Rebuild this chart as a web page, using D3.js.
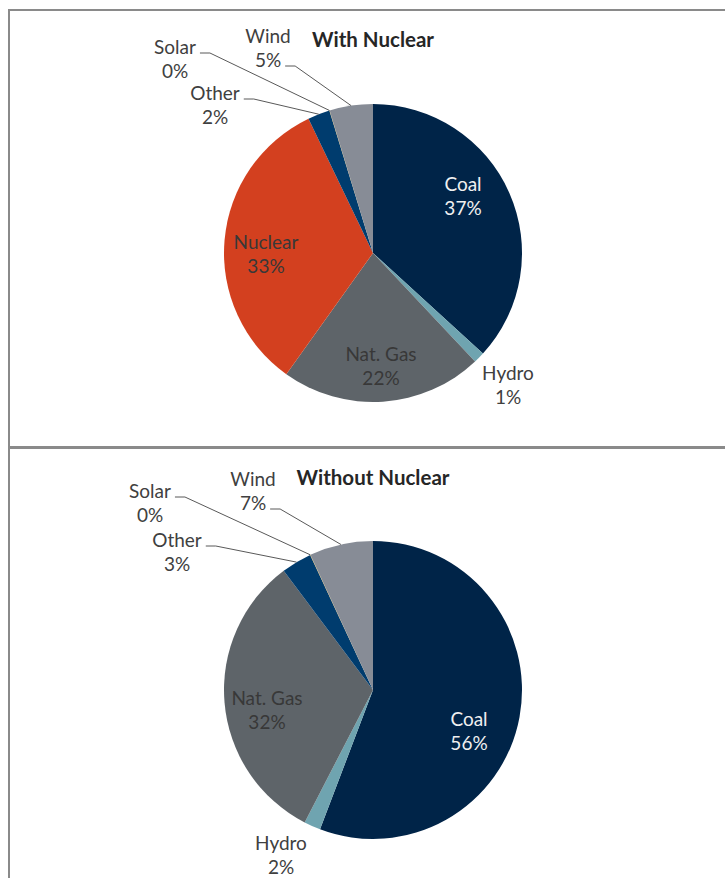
<!DOCTYPE html>
<html>
<head>
<meta charset="utf-8">
<script src="https://cdn.jsdelivr.net/npm/d3@7"></script>
<style>
  body { margin: 0; background: #fff; }
  svg text { font-family: Lato, "Open Sans", sans-serif; }
</style>
</head>
<body>
<svg id="chart" width="725" height="878"></svg>
<script>
// data
var categories = ["Coal", "Hydro", "Nat. Gas", "Nuclear", "Other", "Solar", "Wind"];
var withNuclear = [36.8, 1.2, 21.9, 33.0, 2.4, 0.03, 4.7];
var withoutNuclear = [55.8, 1.8, 32.2, 0, 3.3, 0.03, 6.9];
var titles = ["With Nuclear", "Without Nuclear"];
var colors = ["#002448", "#6fa4b0", "#5e6469", "#d3401f", "#003c6e", "#f0b323", "#878c96"];

// label placement per panel: [x, y of first line, style, leader line index or -1]
var topLabels = {
  "Coal": [463, 184, "light", -1],
  "Hydro": [508, 373, "out", -1],
  "Nat. Gas": [381, 354, "dark", -1],
  "Nuclear": [266, 242, "dark", -1],
  "Other": [215, 93, "out", 0],
  "Solar": [175, 47, "out", 0],
  "Wind": [268, 36, "out", 1]
};
var bottomLabels = {
  "Coal": [469, 719, "light", -1],
  "Hydro": [281, 843, "out", -1],
  "Nat. Gas": [267, 698, "dark", -1],
  "Other": [177, 540, "out", 0],
  "Solar": [150, 491, "out", 0],
  "Wind": [253, 479, "out", 1]
};

var svg = d3.select("#chart");
var color = d3.scaleOrdinal(categories, colors);
var textColor = { light: "#f0f0f0", dark: "#383838", out: "#404040" };

// panel borders
svg.append("rect").attr("x", 9).attr("y", 10).attr("width", 800).attr("height", 437)
  .attr("fill", "none").attr("stroke", "#8a8a8a").attr("stroke-width", 2);
svg.append("rect").attr("x", 9).attr("y", 448).attr("width", 800).attr("height", 500)
  .attr("fill", "none").attr("stroke", "#8a8a8a").attr("stroke-width", 2);

var panels = [
  { values: withNuclear, title: titles[0], cx: 373, cy: 253, titleY: 40, labels: topLabels },
  { values: withoutNuclear, title: titles[1], cx: 373, cy: 690, titleY: 478, labels: bottomLabels }
];

var radius = 149;
var pie = d3.pie().sort(null).value(function(d){ return d.value; });
var arc = d3.arc().innerRadius(0).outerRadius(radius);

panels.forEach(function(p){
  var data = categories.map(function(c, i){ return { name: c, value: p.values[i] }; });
  var total = d3.sum(p.values);
  var arcs = pie(data);

  var g = svg.append("g").attr("transform", "translate(" + p.cx + "," + p.cy + ")");
  g.selectAll("path")
    .data(arcs.filter(function(d){ return d.data.value > 0; }))
  .enter().append("path")
    .attr("d", arc)
    .attr("fill", function(d){ return color(d.data.name); });

  svg.append("text")
    .attr("x", p.cx).attr("y", p.titleY)
    .attr("dy", "0.35em")
    .attr("text-anchor", "middle")
    .style("font-size", "20.5px")
    .style("font-weight", "bold")
    .style("fill", "#262626")
    .text(p.title);

  arcs.forEach(function(a){
    var lab = p.labels[a.data.name];
    if (!lab) return;
    var lines = [a.data.name, Math.round(a.data.value / total * 100) + "%"];
    var t = svg.append("text")
      .attr("text-anchor", "middle")
      .style("font-size", "19px")
      .style("fill", textColor[lab[2]]);
    var spans = lines.map(function(s, i){
      return t.append("tspan")
        .attr("x", lab[0]).attr("y", lab[1] + i * 24)
        .attr("dy", "0.35em")
        .text(s);
    });

    if (lab[3] >= 0) {
      var w = spans[lab[3]].node().getComputedTextLength();
      var x0 = lab[0] + w / 2 + 4;
      var y0 = lab[1] + lab[3] * 24 + 6;
      var mid = (a.startAngle + a.endAngle) / 2;
      var ex = p.cx + radius * Math.sin(mid);
      var ey = p.cy - radius * Math.cos(mid);
      svg.append("polyline")
        .attr("points", [[x0, y0], [x0 + 10, y0], [ex, ey]].join(" "))
        .attr("fill", "none")
        .attr("stroke", "#595959")
        .attr("stroke-width", 1);
    }
  });
});
</script>
</body>
</html>
